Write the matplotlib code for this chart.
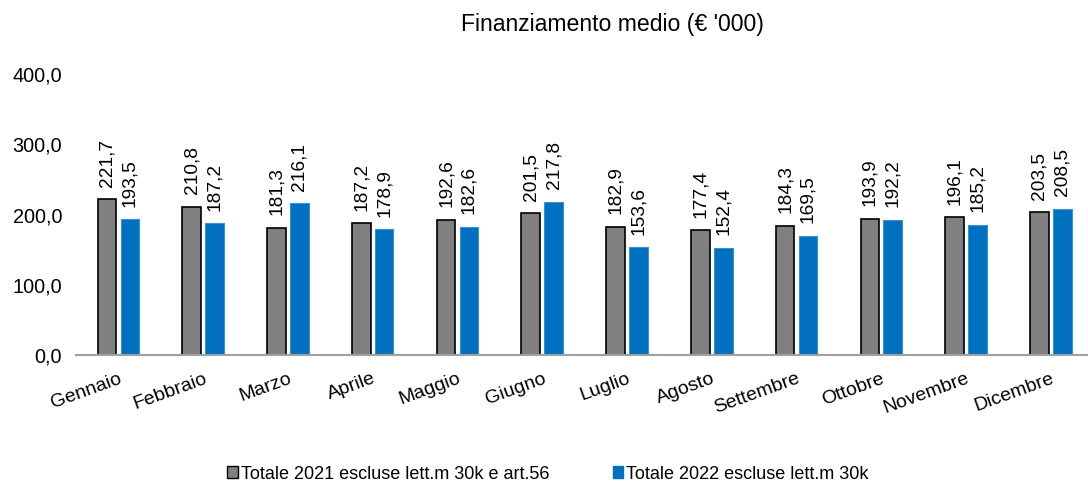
import matplotlib
matplotlib.use("Agg")
import matplotlib.pyplot as plt
import numpy as np
from matplotlib.patches import Patch

plt.rcParams['font.family'] = ['Liberation Sans', 'DejaVu Sans']

months = ["Gennaio", "Febbraio", "Marzo", "Aprile", "Maggio", "Giugno",
          "Luglio", "Agosto", "Settembre", "Ottobre", "Novembre", "Dicembre"]
tot_2021 = [221.7, 210.8, 181.3, 187.2, 192.6, 201.5, 182.9, 177.4, 184.3, 193.9, 196.1, 203.5]
tot_2022 = [193.5, 187.2, 216.1, 178.9, 182.6, 217.8, 153.6, 152.4, 169.5, 192.2, 185.2, 208.5]
series_names = ["Totale 2021 escluse lett.m 30k e art.56", "Totale 2022 escluse lett.m 30k"]
title = "Finanziamento medio (€ '000)"
yticks = [0, 100, 200, 300, 400]

def fmt(v):
    return f"{v:.1f}".replace(".", ",")

fig = plt.figure(figsize=(10.88, 4.86), dpi=100)
ax = fig.add_axes([76/1088, 1-355/486, (1088-76)/1088, (355-74)/486])

x = np.arange(len(months))
w = 0.22
off = 0.135
gray = "#808080"
blue = "#0070C0"
b1 = ax.bar(x - off, tot_2021, w, color=gray, edgecolor="black", linewidth=1.2)
b2 = ax.bar(x + off, tot_2022, w, color=blue, edgecolor="#3d8fd0", linewidth=0.8)

for bars, vals in ((b1, tot_2021), (b2, tot_2022)):
    for r, v in zip(bars, vals):
        ax.annotate(fmt(v), (r.get_x() + r.get_width()/2, v), xytext=(0, 9),
                    textcoords="offset points", rotation=90, ha="center", va="bottom",
                    fontsize=13.8, color="black")

ax.set_xlim(-0.5, (1088-118.4)/84.77)
ax.set_ylim(0, 400)
ax.set_yticks(yticks)
ax.set_yticklabels([fmt(v) for v in yticks], fontsize=14.3)
ax.tick_params(axis="y", length=0, pad=10)
ax.set_xticks(x)
ax.set_xticklabels(months, rotation=20, ha="right", va="top", rotation_mode="anchor", fontsize=14)
ax.tick_params(axis="x", length=0, pad=11)
for s in ("top", "right", "left"):
    ax.spines[s].set_visible(False)
ax.spines["bottom"].set_color("#A0A0A0")
ax.spines["bottom"].set_linewidth(1.5)

fig.text(612/1088, 1-25/486, title, ha="center", va="center", fontsize=16.6)

handles = [Patch(facecolor=gray, edgecolor="black", linewidth=1.0),
           Patch(facecolor=blue, edgecolor=blue)]
fig.legend(handles, series_names, loc="center", bbox_to_anchor=(548/1088, 1-474/486),
           ncol=2, frameon=False, fontsize=13, handlelength=0.6, handleheight=0.6,
           handletextpad=0.15, columnspacing=3.5)

fig.savefig("out.png", dpi=100)
